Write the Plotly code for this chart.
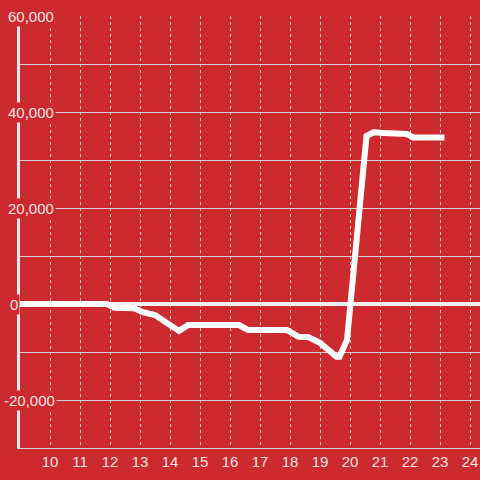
import plotly.graph_objects as go

# data
hours = [9.0, 11.9, 12.15, 12.8, 13.1, 13.5, 14.3, 14.6, 16.3, 16.6, 17.9, 18.3,
         18.6, 19.0, 19.55, 19.65, 19.9, 20.55, 20.8, 21.1, 21.9, 22.1, 23.15]
values = [0, 0, -800, -900, -1700, -2300, -5600, -4400, -4400, -5400, -5400, -6900,
          -6900, -8100, -11000, -11000, -7500, 35000, 35800, 35600, 35400, 34700, 34700]

x_ticks = list(range(10, 25))
y_grid = list(range(-30000, 60001, 10000))
y_label_vals = [60000, 40000, 20000, 0, -20000]
y_label_text = ["60,000", "40,000", "20,000", "0", "-20,000"]
y_label_left_px = [6, 6, 6, 8, 2]

BG = "#cc2a2e"
TXT = "#f3e3e3"
GRID = "#d2d2d2"

fig = go.Figure()
fig.add_trace(go.Scatter(x=hours, y=values, mode="lines",
                         line=dict(color="#ffffff", width=6),
                         hoverinfo="skip", showlegend=False))

W, H = 480, 480
ml, mr, mt, mb = 20, 0, 16, 32
plot_w = W - ml - mr

for v, t, px in zip(y_label_vals, y_label_text, y_label_left_px):
    fig.add_annotation(xref="paper", yref="y", x=(px - ml) / plot_w, y=v,
                       text=t, showarrow=False, xanchor="left", yanchor="middle",
                       bgcolor=BG, borderpad=1,
                       font=dict(family="Liberation Sans, Arial, sans-serif", size=15, color=TXT))

fig.update_layout(
    width=W, height=H,
    margin=dict(l=ml, r=mr, t=mt, b=mb),
    paper_bgcolor=BG, plot_bgcolor=BG,
    font=dict(family="Liberation Sans, Arial, sans-serif", size=15, color=TXT),
    xaxis=dict(range=[9.0, 24.333], tickvals=x_ticks, ticktext=[str(v) for v in x_ticks],
               showgrid=True, gridcolor=GRID, griddash="dot", gridwidth=1,
               zeroline=False, showline=True, linecolor=GRID, linewidth=1,
               ticks="", tickfont=dict(size=15, color=TXT)),
    yaxis=dict(range=[-30000, 60000], tickvals=y_grid, showticklabels=False,
               showgrid=True, gridcolor=GRID, gridwidth=1,
               zeroline=True, zerolinecolor="#f5f0f0", zerolinewidth=4,
               showline=True, linecolor="#f0ecec", linewidth=3, ticks=""),
)

fig.write_html("out.html", config={"displayModeBar": False},
               post_script="document.body.style.margin='0';document.body.style.overflow='hidden';")
